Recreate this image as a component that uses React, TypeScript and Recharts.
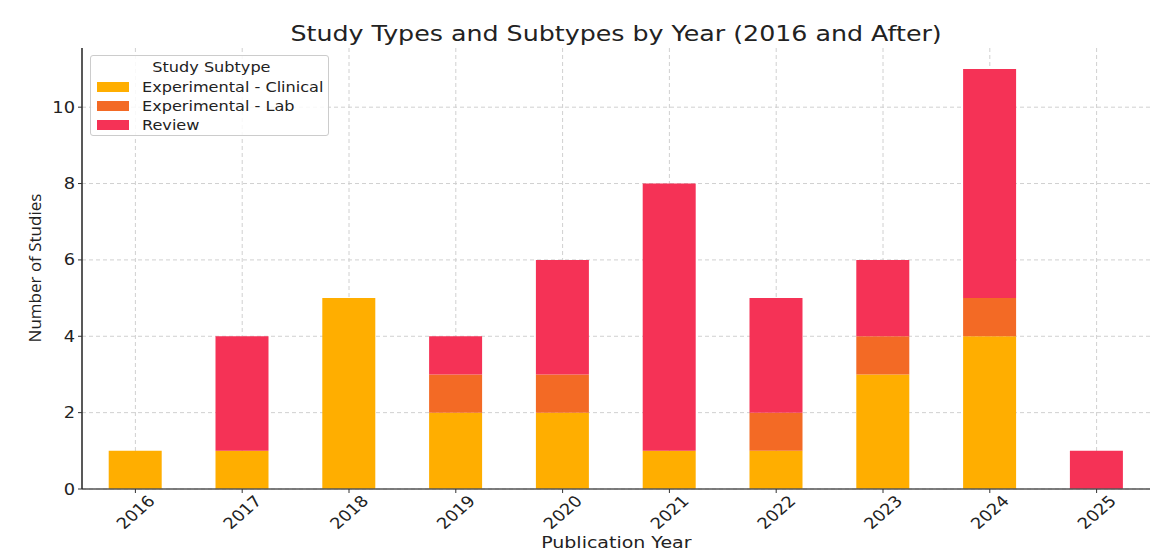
import { BarChart, Bar, XAxis, YAxis, CartesianGrid } from 'recharts';

const years = ['2016', '2017', '2018', '2019', '2020', '2021', '2022', '2023', '2024', '2025'];
const clinical = [1, 1, 5, 2, 2, 1, 1, 3, 4, 0];
const lab = [0, 0, 0, 1, 1, 0, 1, 1, 1, 0];
const review = [0, 3, 0, 1, 3, 7, 3, 2, 6, 1];
const yTicks = [0, 2, 4, 6, 8, 10];

const series = [
  { key: 'clinical', name: 'Experimental - Clinical', color: '#FFAE00' },
  { key: 'lab', name: 'Experimental - Lab', color: '#F36A25' },
  { key: 'review', name: 'Review', color: '#F53256' },
];

const data = years.map((year, i) => ({
  year,
  clinical: clinical[i],
  lab: lab[i],
  review: review[i],
}));

const FONT = '"DejaVu Sans", sans-serif';
// the reference is stretched sideways a little, so text gets a horizontal scale
const SX = 1.15;

function YearTick({ x, y, payload }: any) {
  return (
    <g transform={`translate(${x},${y + 17}) scale(${SX},1) rotate(-45)`}>
      <text
        x={0}
        y={0}
        textAnchor="middle"
        dy="0.36em"
        fontSize={15.5}
        fontFamily={FONT}
        fill="#222"
      >
        {payload.value}
      </text>
    </g>
  );
}

function CountTick({ x, y, payload }: any) {
  return (
    <g transform={`translate(${x - 1},${y}) scale(${SX},1)`}>
      <text x={0} y={0} textAnchor="end" dy="0.36em" fontSize={15.5} fontFamily={FONT} fill="#222">
        {payload.value}
      </text>
    </g>
  );
}

const stretched = (origin: string) => ({
  display: 'inline-block',
  transform: `scaleX(${SX})`,
  transformOrigin: origin,
  whiteSpace: 'nowrap' as const,
});

function SubtypeLegend() {
  return (
    <div
      style={{
        position: 'absolute',
        left: 90,
        top: 55,
        width: 239,
        height: 81,
        border: '1px solid #ccc',
        borderRadius: 3,
        background: 'rgba(255,255,255,0.85)',
        fontFamily: FONT,
        fontSize: 14,
        color: '#222',
        boxSizing: 'border-box',
        paddingTop: 2,
      }}
    >
      <div style={{ textAlign: 'center', lineHeight: '19px', paddingLeft: 4 }}>
        <span style={stretched('center')}>Study Subtype</span>
      </div>
      {series.map((s) => (
        <div key={s.key} style={{ display: 'flex', alignItems: 'center', height: 19 }}>
          <span
            style={{
              display: 'inline-block',
              width: 32,
              height: 10,
              background: s.color,
              marginLeft: 6,
              marginRight: 13,
            }}
          />
          <span style={stretched('left')}>{s.name}</span>
        </div>
      ))}
    </div>
  );
}

export default function App() {
  return (
    <div style={{ position: 'absolute', left: 0, top: 0, width: 1174, height: 560, background: '#fff' }}>
      <div
        style={{
          position: 'absolute',
          left: 82,
          width: 1068,
          top: 21,
          textAlign: 'center',
          fontFamily: FONT,
          fontSize: 22,
          color: '#222',
        }}
      >
        <span style={stretched('center')}>Study Types and Subtypes by Year (2016 and After)</span>
      </div>
      <BarChart
        width={1174}
        height={560}
        data={data}
        margin={{ top: 48, right: 24, left: 32, bottom: 21 }}
        barCategoryGap="25%"
      >
        <CartesianGrid
          strokeDasharray="4 3"
          stroke="#d0d0d0"
          horizontalValues={yTicks}
          verticalValues={years}
        />
        <XAxis
          dataKey="year"
          height={50}
          tick={<YearTick />}
          tickLine={{ stroke: '#333' }}
          tickSize={4}
          axisLine={{ stroke: '#555', strokeWidth: 1.5 }}
          interval={0}
        />
        <YAxis
          width={50}
          domain={[0, 11.55]}
          ticks={yTicks}
          allowDataOverflow
          tick={<CountTick />}
          tickLine={{ stroke: '#333' }}
          tickSize={4}
          axisLine={{ stroke: '#222', strokeWidth: 1.5 }}
        />
        {series.map((s) => (
          <Bar
            key={s.key}
            dataKey={s.key}
            name={s.name}
            stackId="a"
            fill={s.color}
            isAnimationActive={false}
          />
        ))}
      </BarChart>
      <SubtypeLegend />
      <div
        style={{
          position: 'absolute',
          left: 34,
          top: 268,
          transform: 'translate(-50%, -50%) rotate(-90deg)',
          fontFamily: '"Open Sans", sans-serif',
          fontSize: 17,
          color: '#222',
          whiteSpace: 'nowrap',
        }}
      >
        Number of Studies
      </div>
      <div
        style={{
          position: 'absolute',
          left: 82,
          width: 1068,
          top: 533,
          textAlign: 'center',
          fontFamily: FONT,
          fontSize: 16.5,
          color: '#222',
        }}
      >
        <span style={stretched('center')}>Publication Year</span>
      </div>
    </div>
  );
}
